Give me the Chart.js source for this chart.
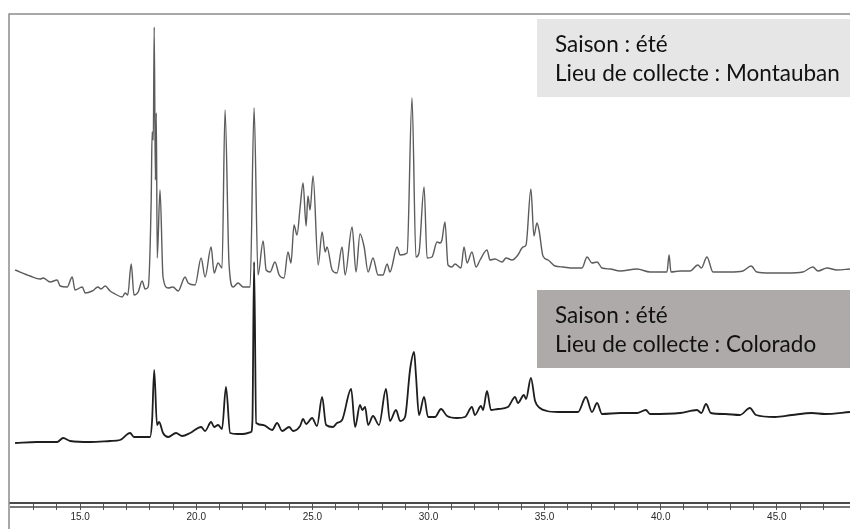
<!DOCTYPE html>
<html lang="fr">
<head>
<meta charset="utf-8">
<title>Chromatogrammes</title>
<script src="https://cdn.jsdelivr.net/npm/chart.js@4.4.1/dist/chart.umd.min.js"></script>
<style>
  html, body { margin: 0; padding: 0; background: #fff; }
  #wrap { width: 850px; height: 529px; position: relative; }
</style>
</head>
<body>
<div id="wrap"><canvas id="chromato"></canvas></div>
<script>
// temps de rétention (min) et signal, échantillon Montauban
const montaubanTimes = [
  12.20, 12.85, 13.28, 13.41, 13.71, 14.01, 14.14, 14.44, 14.66, 14.78,
  15.09, 15.22, 15.52, 15.77, 15.90, 16.08, 16.29, 16.51, 16.81, 16.94,
  17.05, 17.20, 17.32, 17.50, 17.67, 17.80, 17.93, 18.06, 18.10, 18.15,
  18.19, 18.24, 18.28, 18.32, 18.44, 18.57, 18.79, 19.00, 19.22, 19.52,
  19.65, 19.95, 20.21, 20.38, 20.64, 20.77, 20.94, 21.11, 21.24, 21.41,
  21.59, 21.80, 22.02, 22.32, 22.49, 22.66, 22.88, 23.01, 23.18, 23.39,
  23.57, 23.78, 23.95, 24.08, 24.21, 24.34, 24.47, 24.60, 24.73, 24.81,
  24.90, 25.03, 25.25, 25.42, 25.55, 25.63, 25.85, 26.06, 26.28, 26.41,
  26.71, 26.88, 27.05, 27.23, 27.40, 27.61, 27.83, 28.04, 28.22, 28.34,
  28.65, 28.78, 29.08, 29.29, 29.46, 29.59, 29.81, 29.94, 30.15, 30.37,
  30.50, 30.58, 30.71, 30.84, 31.01, 31.14, 31.40, 31.53, 31.66, 31.87,
  32.05, 32.22, 32.52, 32.65, 32.86, 33.17, 33.34, 33.60, 33.85, 34.07,
  34.20, 34.41, 34.54, 34.67, 34.76, 34.93, 35.15, 35.45, 35.79, 36.22,
  36.61, 36.83, 37.04, 37.26, 37.47, 37.82, 38.25, 38.98, 39.54, 40.27,
  40.36, 40.44, 40.83, 41.26, 41.60, 41.75, 41.99, 42.25, 42.98, 43.54,
  43.89, 44.14, 44.70, 45.43, 46.12, 46.55, 46.77, 47.16, 47.59, 48.15
];
const montaubanSignal = [
  30, 24, 21, 22, 18, 20, 14, 13, 23, 10,
  13, 7, 9, 13, 11, 14, 9, 6, 3, 7,
  5, 36, 5, 8, 19, 11, 13, 100, 168, 160,
  273, 120, 187, 42, 110, 23, 12, 13, 9, 23,
  17, 15, 42, 23, 53, 27, 37, 32, 190, 37,
  13, 17, 13, 13, 192, 25, 59, 30, 28, 38,
  25, 22, 48, 37, 75, 65, 92, 117, 74, 104,
  90, 124, 35, 68, 48, 53, 30, 27, 53, 25,
  73, 28, 66, 53, 28, 42, 25, 25, 36, 28,
  53, 45, 47, 202, 43, 47, 113, 42, 43, 58,
  57, 60, 78, 35, 33, 36, 32, 53, 37, 48,
  33, 40, 50, 40, 41, 38, 42, 40, 45, 53,
  55, 111, 64, 77, 70, 44, 40, 34, 33, 32,
  32, 43, 37, 38, 32, 31, 29, 31, 28, 28,
  45, 28, 29, 29, 35, 32, 43, 28, 28, 29,
  34, 28, 27, 27, 28, 33, 29, 32, 30, 31
];

// échantillon Colorado
const coloradoTimes = [
  12.20, 13.15, 14.01, 14.27, 14.57, 15.43, 16.29, 16.72, 17.15, 17.32,
  17.71, 18.01, 18.10, 18.19, 18.31, 18.40, 18.57, 18.79, 19.13, 19.39,
  19.74, 20.21, 20.38, 20.64, 20.77, 20.94, 21.11, 21.28, 21.46, 21.76,
  22.02, 22.36, 22.42, 22.49, 22.58, 22.88, 23.27, 23.48, 23.70, 24.00,
  24.17, 24.47, 24.60, 24.73, 24.99, 25.20, 25.42, 25.59, 25.89, 26.06,
  26.28, 26.67, 26.84, 27.05, 27.15, 27.27, 27.40, 27.61, 27.87, 28.17,
  28.34, 28.60, 28.78, 28.99, 29.21, 29.38, 29.46, 29.59, 29.81, 29.98,
  30.28, 30.54, 30.80, 31.23, 31.57, 31.87, 32.00, 32.26, 32.35, 32.52,
  32.69, 32.99, 33.42, 33.73, 33.85, 34.11, 34.20, 34.41, 34.59, 34.80,
  35.10, 35.58, 36.44, 36.78, 37.04, 37.26, 37.47, 38.25, 38.98, 39.36,
  39.54, 40.83, 41.56, 41.75, 41.95, 42.16, 42.77, 43.41, 43.84, 44.10,
  44.92, 45.65, 46.51, 47.07, 48.15
];
const coloradoSignal = [
  2, 3, 3, 7, 4, 3, 4, 5, 12, 8,
  8, 8, 25, 75, 20, 23, 12, 8, 12, 9,
  12, 18, 14, 23, 18, 20, 16, 58, 12, 11,
  11, 13, 25, 183, 22, 20, 15, 22, 14, 18,
  14, 19, 26, 21, 27, 19, 48, 20, 18, 22,
  25, 56, 18, 40, 35, 38, 20, 29, 20, 56,
  24, 35, 24, 28, 76, 93, 70, 30, 48, 28,
  28, 36, 29, 27, 28, 38, 30, 39, 35, 54,
  35, 36, 38, 48, 42, 50, 46, 67, 44, 37,
  34, 33, 33, 48, 33, 42, 31, 32, 32, 35,
  31, 32, 35, 32, 41, 32, 31, 30, 37, 30,
  28, 30, 32, 31, 33
];

const majorTicks = [15, 20, 25, 30, 35, 40, 45];

const montaubanLabel = ['Saison : été', 'Lieu de collecte : Montauban'];
const coloradoLabel = ['Saison : été', 'Lieu de collecte : Colorado'];

// décalage vertical des deux tracés
const OFFSET_TOP = 203;
const OFFSET_BOTTOM = 58;

function toPoints(times, values, offset) {
  return times.map((t, i) => ({ x: t, y: values[i] + offset }));
}

function drawFrame(ctx, chart) {
  ctx.strokeStyle = '#8c8c8c';
  ctx.lineWidth = 1.5;
  ctx.beginPath();
  ctx.moveTo(9, chart.height);
  ctx.lineTo(9, 14);
  ctx.lineTo(chart.width, 14);
  ctx.stroke();
}

const framePlugin = {
  id: 'frame',
  beforeDraw(chart) {
    const ctx = chart.ctx;
    ctx.save();
    ctx.fillStyle = '#fff';
    ctx.fillRect(0, 0, chart.width, chart.height);
    ctx.restore();
  },
  afterDraw(chart) {
    const ctx = chart.ctx;
    const b = chart.chartArea.bottom;
    ctx.save();
    // l'axe commence au cadre
    ctx.fillStyle = '#fff';
    ctx.fillRect(0, b - 3, 9, chart.height - b + 3);
    drawFrame(ctx, chart);

    // deuxième trait de l'axe
    ctx.strokeStyle = '#4a4a4a';
    ctx.lineWidth = 1.5;
    ctx.beginPath();
    ctx.moveTo(10, b + 4);
    ctx.lineTo(chart.width, b + 4);
    ctx.stroke();

    const boxes = [
      { y: 19, fill: '#E7E6E6', lines: montaubanLabel },
      { y: 290, fill: '#AEAAAA', lines: coloradoLabel }
    ];
    ctx.font = '22.5px Lato';
    ctx.textBaseline = 'alphabetic';
    boxes.forEach(bx => {
      ctx.fillStyle = bx.fill;
      ctx.fillRect(537, bx.y, chart.width - 537, 78);
      ctx.fillStyle = '#111';
      bx.lines.forEach((txt, i) => ctx.fillText(txt, 555, bx.y + 33 + i * 29));
    });
    ctx.restore();
  }
};

new Chart(document.getElementById('chromato'), {
  type: 'line',
  data: {
    datasets: [
      {
        label: 'Colorado',
        data: toPoints(coloradoTimes, coloradoSignal, OFFSET_BOTTOM),
        borderColor: '#1e1e1e',
        borderWidth: 1.8,
        pointRadius: 0,
        cubicInterpolationMode: 'monotone',
        order: 0
      },
      {
        label: 'Montauban',
        data: toPoints(montaubanTimes, montaubanSignal, OFFSET_TOP),
        borderColor: '#5c5c5c',
        borderWidth: 1.4,
        pointRadius: 0,
        cubicInterpolationMode: 'monotone',
        order: 1
      }
    ]
  },
  options: {
    responsive: true,
    maintainAspectRatio: false,
    animation: false,
    layout: { padding: 0 },
    plugins: {
      legend: { display: false },
      tooltip: { enabled: false }
    },
    scales: {
      x: {
        type: 'linear',
        min: 11.55,
        max: 48.15,
        afterFit(scale) { scale.height = 26; },
        afterBuildTicks(scale) {
          scale.ticks = scale.ticks.filter(t => Math.abs(t.value - Math.round(t.value)) < 1e-6);
        },
        ticks: {
          stepSize: 1,
          autoSkip: false,
          maxRotation: 0,
          padding: 1,
          color: '#2a2a2a',
          font: { family: 'Liberation Sans', size: 10 },
          callback(v) {
            const r = Math.round(v);
            return majorTicks.includes(r) ? r.toFixed(1) : '';
          }
        },
        grid: {
          drawOnChartArea: false,
          drawTicks: true,
          tickLength: 7,
          color: '#555'
        },
        border: { display: true, color: '#4a4a4a', width: 2 }
      },
      y: {
        display: false,
        min: 0,
        max: 503
      }
    }
  },
  plugins: [framePlugin]
});
</script>
</body>
</html>
